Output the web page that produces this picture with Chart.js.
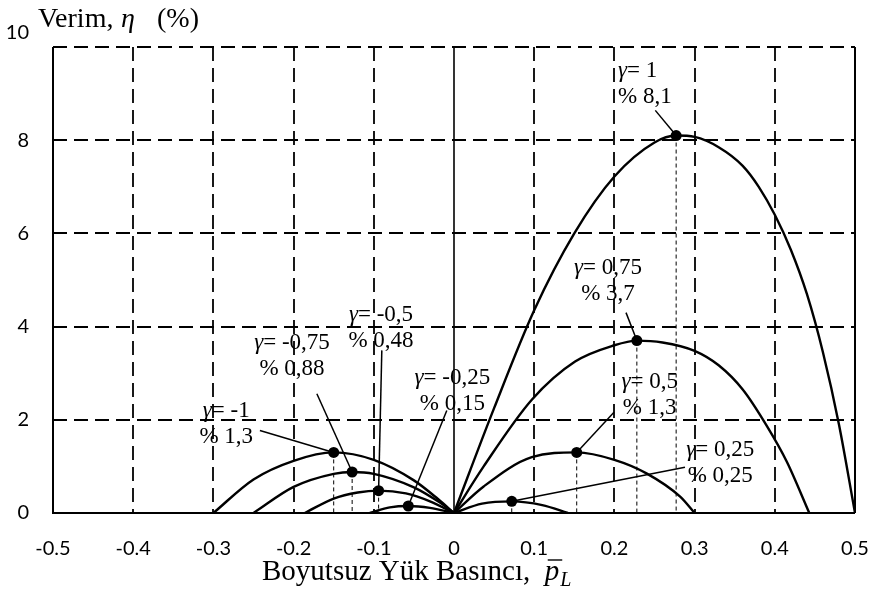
<!DOCTYPE html>
<html>
<head>
<meta charset="utf-8">
<script src="https://cdn.jsdelivr.net/npm/chart.js@4.4.1/dist/chart.umd.min.js"></script>
<style>
  html, body { margin: 0; padding: 0; background: #ffffff; }
  #wrap { width: 878px; height: 611px; }
</style>
</head>
<body>
<div id="wrap"><canvas id="c" width="878" height="611"></canvas></div>
<script>
// Tick values
const xTicks = [-0.5, -0.4, -0.3, -0.2, -0.1, 0, 0.1, 0.2, 0.3, 0.4, 0.5];
const yTicks = [0, 2, 4, 6, 8, 10];

// Efficiency curves η(p̄L) for each γ
const gammas = [1, 0.75, 0.5, 0.25, -0.25, -0.5, -0.75, -1];

const pG100   = [0, 0.05, 0.1, 0.15, 0.2, 0.25, 0.277, 0.3, 0.33, 0.36, 0.38, 0.4, 0.42, 0.44, 0.46, 0.48, 0.5];
const etaG100 = [0, 2.25, 4.35, 6.0, 7.22, 7.95, 8.1, 8.07, 7.85, 7.45, 7.0, 6.4, 5.65, 4.7, 3.45, 1.9, 0];

const pG075   = [0, 0.037, 0.097, 0.151, 0.2, 0.228, 0.26, 0.3, 0.33, 0.36, 0.39, 0.415, 0.443];
const etaG075 = [0, 1.0, 2.43, 3.25, 3.6, 3.7, 3.66, 3.48, 3.17, 2.65, 1.87, 1.1, 0];

const pG050   = [0, 0.037, 0.097, 0.153, 0.2, 0.24, 0.282, 0.3];
const etaG050 = [0, 0.57, 1.2, 1.3, 1.14, 0.85, 0.35, 0];

const pG025   = [0, 0.035, 0.072, 0.11, 0.142];
const etaG025 = [0, 0.2, 0.25, 0.17, 0];

const pGm025   = [-0.105, -0.08, -0.057, -0.03, 0];
const etaGm025 = [0, 0.12, 0.15, 0.11, 0];

const pGm050   = [-0.186, -0.15, -0.12, -0.094, -0.06, -0.03, 0];
const etaGm050 = [0, 0.31, 0.44, 0.48, 0.42, 0.25, 0];

const pGm075   = [-0.25, -0.2, -0.15, -0.127, -0.1, -0.05, -0.02, 0];
const etaGm075 = [0, 0.56, 0.84, 0.88, 0.84, 0.55, 0.25, 0];

const pGm100   = [-0.3, -0.25, -0.2, -0.15, -0.1, -0.05, -0.02, 0];
const etaGm100 = [0, 0.72, 1.12, 1.3, 1.14, 0.7, 0.3, 0];

const curveP   = [pG100, pG075, pG050, pG025, pGm025, pGm050, pGm075, pGm100];
const curveEta = [etaG100, etaG075, etaG050, etaG025, etaGm025, etaGm050, etaGm075, etaGm100];

// Maximum efficiency point of each curve
const peakP   = [0.277, 0.228, 0.153, 0.072, -0.057, -0.094, -0.127, -0.15];
const peakEta = [8.1, 3.7, 1.3, 0.25, 0.15, 0.48, 0.88, 1.3];

// Callout placement (data units): text anchor and leader-line start
const calloutTextP   = [0.2045, 0.192, 0.244, 0.332, -0.002, -0.091, -0.202, -0.284];
const calloutTextEta = [9.49, 5.25, 2.82, 1.36, 2.89, 4.26, 3.64, 2.2];
const calloutAlign   = ['left', 'center', 'center', 'center', 'center', 'center', 'center', 'center'];
const leaderFromP    = [0.251, 0.2145, 0.1995, 0.288, -0.009, -0.09, -0.171, -0.242];
const leaderFromEta  = [8.64, 4.30, 2.16, 0.98, 2.2, 3.49, 2.56, 1.77];

const SERIF = '"Liberation Serif", "Times New Roman", serif';
const TICKFONT = 'Lato, "Open Sans", sans-serif';
const fmtComma = v => String(v).replace('.', ',');

function toPts(ps, es) { return ps.map((p, i) => ({ x: p, y: es[i] })); }

const datasets = curveP.map((ps, i) => ({
  label: 'γ = ' + fmtComma(gammas[i]),
  data: toPts(ps, curveEta[i]),
  showLine: true,
  borderColor: '#000',
  borderWidth: 2.4,
  pointRadius: 0,
  cubicInterpolationMode: 'monotone',
  fill: false
}));
datasets.push({
  label: 'ηmax',
  data: toPts(peakP, peakEta),
  showLine: false,
  pointRadius: 5.5,
  pointBackgroundColor: '#000',
  pointBorderColor: '#000',
  pointBorderWidth: 0
});

// Draws a sequence of text runs with mixed fonts
function drawRuns(ctx, runs, x, y, align) {
  let total = 0;
  runs.forEach(r => { ctx.font = r.font; r.w = ctx.measureText(r.t).width; total += r.w; });
  let cx = align === 'center' ? x - total / 2 : (align === 'right' ? x - total : x);
  ctx.textAlign = 'left';
  runs.forEach(r => { ctx.font = r.font; ctx.fillText(r.t, cx, y); cx += r.w; });
}

const decorPlugin = {
  id: 'decor',
  beforeDatasetsDraw(chart) {
    const { ctx, chartArea: a, scales: { x, y } } = chart;
    ctx.save();
    ctx.strokeStyle = '#000';
    // dashed grid
    ctx.lineWidth = 1.8;
    ctx.setLineDash([14, 7]);
    xTicks.forEach(v => {
      if (v === -0.5 || v === 0 || v === 0.5) return;
      const px = Math.round(x.getPixelForValue(v));
      ctx.beginPath(); ctx.moveTo(px, a.top); ctx.lineTo(px, a.bottom); ctx.stroke();
    });
    yTicks.forEach(v => {
      if (v === 0) return;
      const py = Math.round(y.getPixelForValue(v));
      ctx.beginPath(); ctx.moveTo(a.left, py); ctx.lineTo(a.right, py); ctx.stroke();
    });
    // drop lines under each maximum
    ctx.lineWidth = 1;
    ctx.setLineDash([4, 3]);
    peakP.forEach((p, i) => {
      const px = x.getPixelForValue(p), py = y.getPixelForValue(peakEta[i]);
      ctx.beginPath(); ctx.moveTo(px, py); ctx.lineTo(px, a.bottom); ctx.stroke();
    });
    ctx.setLineDash([]);
    // solid frame lines
    ctx.lineWidth = 2;
    ctx.beginPath();
    ctx.moveTo(a.left, a.top); ctx.lineTo(a.left, a.bottom); ctx.lineTo(a.right, a.bottom);
    ctx.moveTo(x.getPixelForValue(0.5), a.top); ctx.lineTo(x.getPixelForValue(0.5), a.bottom);
    ctx.stroke();
    ctx.lineWidth = 1.6;
    ctx.beginPath();
    ctx.moveTo(x.getPixelForValue(0), a.top); ctx.lineTo(x.getPixelForValue(0), a.bottom);
    ctx.stroke();
    ctx.restore();
  },
  afterDatasetsDraw(chart) {
    const { ctx, scales: { x, y } } = chart;
    ctx.save();
    // leader lines
    ctx.strokeStyle = '#000';
    ctx.lineWidth = 1.5;
    peakP.forEach((p, i) => {
      ctx.beginPath();
      ctx.moveTo(x.getPixelForValue(leaderFromP[i]), y.getPixelForValue(leaderFromEta[i]));
      ctx.lineTo(x.getPixelForValue(p), y.getPixelForValue(peakEta[i]));
      ctx.stroke();
    });
    // callout texts
    ctx.fillStyle = '#000';
    ctx.textBaseline = 'middle';
    const fReg = '23px ' + SERIF, fIt = 'italic 23px ' + SERIF;
    gammas.forEach((g, i) => {
      const tx = x.getPixelForValue(calloutTextP[i]);
      const ty = y.getPixelForValue(calloutTextEta[i]);
      drawRuns(ctx, [{ t: 'γ', font: fIt }, { t: '= ' + fmtComma(g), font: fReg }], tx, ty, calloutAlign[i]);
      drawRuns(ctx, [{ t: '% ' + fmtComma(peakEta[i]), font: fReg }], tx, ty + 26, calloutAlign[i]);
    });
    ctx.restore();
  },
  afterDraw(chart) {
    const { ctx } = chart;
    ctx.save();
    ctx.fillStyle = '#000';
    ctx.textBaseline = 'alphabetic';
    ctx.textAlign = 'left';
    // y-axis title
    ctx.font = '28px ' + SERIF;        ctx.fillText('Verim,', 38, 27);
    ctx.font = 'italic 28px ' + SERIF; ctx.fillText('η', 121, 27);
    ctx.font = '28px ' + SERIF;        ctx.fillText('(%)', 157, 27);
    // x-axis title
    const fReg = '29px ' + SERIF, fIt = 'italic 29px ' + SERIF;
    const main = 'Boyutsuz Yük Basıncı,  ';
    const x0 = 262, base = 580;
    ctx.font = fReg;
    ctx.fillText(main, x0, base);
    const cx = x0 + ctx.measureText(main).width;
    ctx.font = fIt;
    ctx.fillText('p', cx, base);
    const pw = ctx.measureText('p').width;
    ctx.lineWidth = 1.4;
    ctx.strokeStyle = '#000';
    ctx.beginPath(); ctx.moveTo(cx + 3, base - 20); ctx.lineTo(cx + pw + 3, base - 20); ctx.stroke();
    ctx.font = 'italic 20px ' + SERIF;
    ctx.fillText('L', cx + pw + 1, base + 6);
    ctx.restore();
  }
};

new Chart(document.getElementById('c'), {
  type: 'scatter',
  data: { datasets },
  options: {
    responsive: false,
    devicePixelRatio: 1,
    animation: false,
    layout: { padding: { left: 0, top: 47, right: 23, bottom: 0 } },
    plugins: { legend: { display: false }, tooltip: { enabled: false } },
    scales: {
      x: {
        type: 'linear', min: -0.5, max: 0.5,
        afterBuildTicks: s => { s.ticks = xTicks.map(v => ({ value: v })); },
        afterFit: s => { s.height = 98; s.paddingLeft = 0; s.paddingRight = 0; },
        grid: { display: false },
        border: { display: false },
        ticks: {
          color: '#000',
          font: { family: TICKFONT, size: 20 },
          padding: 16,
          maxRotation: 0,
          callback: v => (v === 0 ? '0' : v.toFixed(1))
        }
      },
      y: {
        type: 'linear', min: 0, max: 10,
        afterBuildTicks: s => { s.ticks = yTicks.map(v => ({ value: v })); },
        afterFit: s => { s.width = 53; s.paddingTop = 0; s.paddingBottom = 0; },
        grid: { display: false },
        border: { display: false },
        ticks: {
          color: '#000',
          font: c => ({ family: TICKFONT, size: 20, lineHeight: c.tick && c.tick.value === 10 ? 1.4 : 1.2 }),
          padding: 16,
          callback: v => (v === 10 ? ['10', ''] : String(v))
        }
      }
    }
  },
  plugins: [decorPlugin]
});
</script>
</body>
</html>
